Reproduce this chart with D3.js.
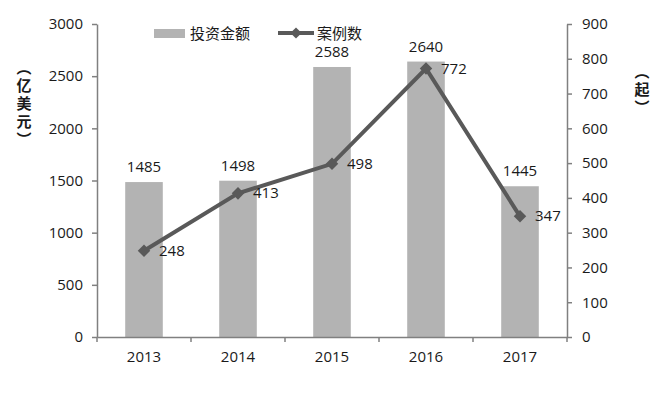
<!DOCTYPE html>
<html>
<head>
<meta charset="utf-8">
<script src="https://cdn.jsdelivr.net/npm/d3@7"></script>
<style>
  body { margin: 0; background: #fff; }
  text { font-family: "Open Sans", "Noto Sans CJK SC", sans-serif; fill: #1a1a1a; }
  .vtitle { font-family: "Noto Sans CJK SC", sans-serif; writing-mode: vertical-rl; }
</style>
</head>
<body>
<div id="vis"></div>
<script>
const FRAME_WIDTH = 657;
const FRAME_HEIGHT = 394;
const MARGINS = {left: 97, right: 90, top: 24, bottom: 57};

// data
const years = ["2013", "2014", "2015", "2016", "2017"];
const amounts = [1485, 1498, 2588, 2640, 1445];   // 投资金额 (亿美元)
const cases = [248, 413, 498, 772, 347];          // 案例数 (起)
const leftTicks = [0, 500, 1000, 1500, 2000, 2500, 3000];
const rightTicks = [0, 100, 200, 300, 400, 500, 600, 700, 800, 900];

const VIS_WIDTH = FRAME_WIDTH - MARGINS.left - MARGINS.right;
const VIS_HEIGHT = FRAME_HEIGHT - MARGINS.top - MARGINS.bottom;

const svg = d3.select("#vis")
  .append("svg")
    .attr("width", FRAME_WIDTH)
    .attr("height", FRAME_HEIGHT);

const g = svg.append("g")
  .attr("transform", "translate(" + MARGINS.left + "," + MARGINS.top + ")");

const X_SCALE = d3.scaleBand().domain(years).range([0, VIS_WIDTH]);
const Y_LEFT = d3.scaleLinear().domain([0, 3000]).range([VIS_HEIGHT, 0]);
const Y_RIGHT = d3.scaleLinear().domain([0, 900]).range([VIS_HEIGHT, 0]);

const barW = X_SCALE.bandwidth() * 0.4;

// bars
g.selectAll(".bar")
  .data(years)
  .enter()
  .append("rect")
    .attr("x", (d) => X_SCALE(d) + (X_SCALE.bandwidth() - barW) / 2)
    .attr("y", (d, i) => Y_LEFT(amounts[i]))
    .attr("width", barW)
    .attr("height", (d, i) => VIS_HEIGHT - Y_LEFT(amounts[i]))
    .attr("fill", "#b3b3b3");

// bar labels
g.selectAll(".barlabel")
  .data(years)
  .enter()
  .append("text")
    .attr("x", (d) => X_SCALE(d) + X_SCALE.bandwidth() / 2)
    .attr("y", (d, i) => Y_LEFT(amounts[i]) - 10)
    .attr("text-anchor", "middle")
    .attr("font-size", 15)
    .text((d, i) => amounts[i]);

// axes
function styleAxis(sel) {
  sel.selectAll("path, line").attr("stroke", "#808080").attr("stroke-width", 1.5);
  sel.selectAll("text").attr("font-size", 15).attr("fill", "#1a1a1a");
}

g.append("g")
  .attr("transform", "translate(0," + VIS_HEIGHT + ")")
  .call(d3.axisBottom(X_SCALE).tickSize(0).tickPadding(14))
  .call(styleAxis);

// x tick marks at band edges
g.selectAll(".xtick")
  .data(years.concat(["end"]))
  .enter()
  .append("line")
    .attr("x1", (d, i) => i * X_SCALE.step())
    .attr("x2", (d, i) => i * X_SCALE.step())
    .attr("y1", VIS_HEIGHT)
    .attr("y2", VIS_HEIGHT + 5)
    .attr("stroke", "#808080")
    .attr("stroke-width", 1.5);

g.append("g")
  .call(d3.axisLeft(Y_LEFT).tickValues(leftTicks).tickFormat(d3.format("d"))
    .tickSize(5).tickPadding(9).tickSizeOuter(0))
  .call(styleAxis);

g.append("g")
  .attr("transform", "translate(" + VIS_WIDTH + ",0)")
  .call(d3.axisRight(Y_RIGHT).tickValues(rightTicks).tickFormat(d3.format("d"))
    .tickSize(5).tickPadding(10).tickSizeOuter(0))
  .call(styleAxis);

// line
const line = d3.line()
  .x((d, i) => X_SCALE(years[i]) + X_SCALE.bandwidth() / 2)
  .y((d) => Y_RIGHT(d));

g.append("path")
  .datum(cases)
  .attr("d", line)
  .attr("fill", "none")
  .attr("stroke", "#595959")
  .attr("stroke-width", 4);

g.selectAll(".pt")
  .data(cases)
  .enter()
  .append("path")
    .attr("d", d3.symbol(d3.symbolDiamond2, 100))
    .attr("transform", (d, i) => "translate(" + (X_SCALE(years[i]) + X_SCALE.bandwidth() / 2) + "," + Y_RIGHT(d) + ")")
    .attr("fill", "#595959");

g.selectAll(".ptlabel")
  .data(cases)
  .enter()
  .append("text")
    .attr("x", (d, i) => X_SCALE(years[i]) + X_SCALE.bandwidth() / 2 + 15)
    .attr("y", (d) => Y_RIGHT(d) + 5)
    .attr("font-size", 15)
    .text((d) => d);

// axis titles, written vertically
svg.append("text")
  .attr("class", "vtitle")
  .attr("x", 24).attr("y", 60)
  .attr("font-size", 15).attr("font-weight", "bold")
  .attr("letter-spacing", 3)
  .text("（亿美元）");

svg.append("text")
  .attr("class", "vtitle")
  .attr("x", 642).attr("y", 64)
  .attr("font-size", 15).attr("font-weight", "bold")
  .attr("letter-spacing", 3)
  .text("（起）");

// legend
const legend = svg.append("g");
legend.append("rect")
  .attr("x", 154).attr("y", 29).attr("width", 31).attr("height", 9)
  .attr("fill", "#b3b3b3");
legend.append("text")
  .attr("x", 190).attr("y", 39).attr("font-size", 15).text("投资金额");
legend.append("line")
  .attr("x1", 278).attr("x2", 314).attr("y1", 33).attr("y2", 33)
  .attr("stroke", "#595959").attr("stroke-width", 4);
legend.append("path")
  .attr("d", d3.symbol(d3.symbolDiamond2, 80))
  .attr("transform", "translate(296,33)")
  .attr("fill", "#595959");
legend.append("text")
  .attr("x", 317).attr("y", 39).attr("font-size", 15).text("案例数");
</script>
</body>
</html>
